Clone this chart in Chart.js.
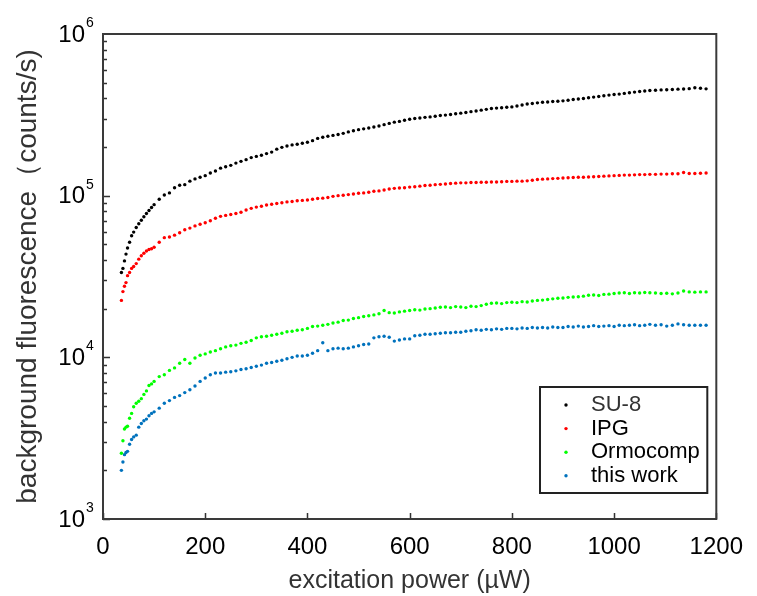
<!DOCTYPE html>
<html>
<head>
<meta charset="utf-8">
<script src="https://cdn.jsdelivr.net/npm/chart.js@4.4.1/dist/chart.umd.min.js"></script>
<style>
  html, body { margin: 0; padding: 0; background: #fff; }
  canvas { display: block; }
</style>
</head>
<body>
<canvas id="chart" width="757" height="596"></canvas>
<script>
// excitation power (µW)
const power = [
  36, 39, 42, 45, 48, 52, 56, 60, 65, 70, 75, 80, 85, 90, 95,
  100, 110, 120, 130, 140, 150, 160, 170, 180, 190,
  200, 210, 220, 230, 240, 250, 260, 270, 280, 290,
  300, 310, 320, 330, 340, 350, 360, 370, 380, 390,
  400, 410, 420, 430, 440, 450, 460, 470, 480, 490,
  500, 510, 520, 530, 540, 550, 560, 570, 580, 590,
  600, 610, 620, 630, 640, 650, 660, 670, 680, 690,
  700, 710, 720, 730, 740, 750, 760, 770, 780, 790,
  800, 810, 820, 830, 840, 850, 860, 870, 880, 890,
  900, 910, 920, 930, 940, 950, 960, 970, 980, 990,
  1000, 1010, 1020, 1030, 1040, 1050, 1060, 1070,
  1081, 1092, 1103, 1114, 1125, 1136, 1147, 1158, 1169, 1180
];

// background fluorescence, in thousands of counts/s
const su8 = [
  33.5, 35.5, 39.5, 43.5, 47.5, 51.5, 56.5, 59.5, 63.5, 67, 70.5, 74, 77.5, 81, 84.5,
  88, 95, 101, 104, 112, 116, 117, 123, 127, 130,
  133, 138, 142, 148, 151, 154, 159, 163, 167, 172,
  175, 178, 182, 186, 194, 199, 203, 206, 208, 211,
  214, 219, 226, 230, 233, 236, 239, 243, 248, 252,
  256, 259, 262, 266, 270, 275, 280, 285, 288, 293,
  297, 300, 302, 305, 307, 310, 313, 315, 318, 321,
  324, 327, 331, 334, 338, 342, 346, 348, 350, 352,
  354, 359, 364, 369, 372, 375, 378, 380, 382, 384,
  386, 389, 393, 396, 399, 403, 407, 411, 415, 419,
  422, 425, 429, 433, 437, 441, 444, 447,
  449, 451, 452, 454, 456, 457, 459, 465, 462, 458
];

const ipg = [
  22.5, 25.5, 27.5, 29, 32, 33.5, 35.5, 36.5, 38, 40.5, 42.5, 44, 45.5, 46.5, 47,
  48, 51.5, 55, 55.5, 57, 59, 61.5, 63, 65, 66.5,
  68, 70, 72.5, 74.5, 75.5, 76.5, 77.5, 79, 81.5, 83.5,
  85, 86, 87.5, 88.5, 89.5, 90.5, 91.5, 92, 93, 93.5,
  94, 95, 96, 96.5, 97.5, 99, 100, 100.5, 101.5, 102.5,
  103.5, 104, 105, 106.5, 107, 108.5, 110, 111, 111.5, 112,
  113, 113.5, 114.5, 115.5, 116, 117, 117.5, 118, 119, 119.5,
  120, 120, 120.5, 120.5, 121, 121, 121.5, 121.5, 122, 122.5,
  122.5, 123, 123, 123.5, 124.5, 126, 126.5, 127, 127.5, 128,
  128.5, 129, 129.5, 130, 130, 130.5, 131, 131.5, 132, 132.5,
  133, 133.5, 134, 134, 134.5, 135, 135, 135.5,
  135.5, 136, 136, 136.5, 136.5, 139, 137, 137, 137.5, 138
];

const ormocomp = [
  2.55, 3.05, 3.6, 3.7, 3.75, 4.2, 4.5, 4.95, 5.2, 5.35, 5.55, 5.9, 6.2, 6.7, 6.85,
  7.1, 7.6, 7.8, 8.3, 8.6, 9.2, 9.7, 9.2, 9.9, 10.3,
  10.5, 10.8, 11.0, 11.3, 11.6, 11.8, 11.9, 12.2, 12.4, 12.7,
  13.2, 13.4, 13.5, 13.7, 13.9, 14.1, 14.4, 14.5, 14.7, 14.8,
  15.1, 15.5, 15.6, 15.8, 16.0, 16.3, 16.5, 16.9, 17.0, 17.4,
  17.6, 17.9, 18.1, 18.3, 18.6, 19.5, 18.9, 18.8, 19.1, 19.3,
  19.5, 19.7, 19.6, 19.9, 20.0, 20.2, 20.4, 20.5, 20.3, 20.6,
  20.5, 20.3, 20.7, 20.6, 20.9, 21.3, 21.6, 21.7, 21.5, 21.8,
  21.9, 21.8, 22.1, 22.0, 22.3, 22.5, 22.6, 22.8, 23.0, 23.2,
  23.3, 23.5, 23.6, 23.7, 23.9, 24.2, 24.3, 24.1, 24.5, 24.6,
  24.8, 25.0, 25.1, 24.8, 25.1, 25.0, 25.2, 25.1,
  25.0, 24.8, 24.9, 24.7, 25.0, 25.7, 25.4, 25.3, 25.4, 25.4
];

const thisWork = [
  2.0, 2.25, 2.5, 2.58, 2.62, 2.9, 3.1, 3.22, 3.3, 3.7, 3.9, 4.05, 4.15, 4.35, 4.5,
  4.6, 4.85, 5.2, 5.4, 5.65, 5.8, 6.05, 6.3, 6.65, 7.1,
  7.45, 7.8, 8.0, 8.0, 8.1, 8.15, 8.25, 8.4, 8.5, 8.65,
  8.8, 8.95, 9.2, 9.3, 9.45, 9.6, 9.8, 10.0, 10.2, 10.2,
  10.3, 10.6, 11.0, 12.3, 11.0, 11.3, 11.4, 11.3, 11.4, 11.6,
  11.8, 12.0, 12.1, 13.2, 13.4, 13.5, 13.3, 12.6, 12.8, 13.0,
  13.0, 13.6, 13.7, 13.9, 13.9, 14.0, 14.1, 14.2, 14.2, 14.3,
  14.3, 14.5, 14.6, 14.8, 14.7, 14.9, 14.8, 15.0, 14.9, 15.1,
  15.1, 15.0, 15.2, 15.1, 15.3, 15.2, 15.3, 15.2, 15.4, 15.3,
  15.3, 15.5, 15.4, 15.6, 15.4, 15.5, 15.7, 15.5, 15.6, 15.7,
  15.5, 15.8, 15.7, 15.8, 15.9, 15.7, 15.8, 16.0,
  15.8, 15.9, 15.6, 15.8, 16.1, 15.9, 15.8, 15.8, 15.8, 15.8
];

const seriesLabels = ['SU-8', 'IPG', 'Ormocomp', 'this work'];
const seriesValues = [su8, ipg, ormocomp, thisWork];
const seriesColors = ['#000000', '#ff0000', '#00ff00', '#0072bd'];

const xTicks = [0, 200, 400, 600, 800, 1000, 1200];
const yExponents = [3, 4, 5, 6];

const FONT = '"Liberation Sans", Arial, Helvetica, sans-serif';

const datasets = seriesLabels.map((label, i) => ({
  label: label,
  data: power.map((p, j) => ({ x: p, y: seriesValues[i][j] * 1000 })),
  backgroundColor: seriesColors[i],
  borderColor: seriesColors[i],
  pointRadius: 1.7,
  pointHoverRadius: 1.7,
  pointBorderWidth: 0
}));

// axis box, inward ticks, 10^n labels and the boxed legend
const axisDecor = {
  id: 'axisDecor',
  afterDraw(chart) {
    const { ctx, chartArea: a, scales: { x, y } } = chart;
    ctx.save();

    ctx.strokeStyle = '#333';
    ctx.lineWidth = 1.5;
    ctx.beginPath();
    xTicks.forEach(v => {
      const px = Math.round(x.getPixelForValue(v)) + 0.5;
      ctx.moveTo(px, a.bottom);
      ctx.lineTo(px, a.bottom - 6);
    });
    for (let d = 3; d < 6; d++) {
      for (let m = 1; m <= 9; m++) {
        const py = Math.round(y.getPixelForValue(m * Math.pow(10, d))) + 0.5;
        ctx.moveTo(a.left, py);
        ctx.lineTo(a.left + (m === 1 ? 7 : 4), py);
      }
    }
    ctx.stroke();

    ctx.lineWidth = 2;
    ctx.strokeStyle = '#3a3a3a';
    ctx.strokeRect(a.left, a.top, a.right - a.left, a.bottom - a.top);

    ctx.fillStyle = '#000';
    ctx.textBaseline = 'middle';
    yExponents.forEach(e => {
      const py = y.getPixelForValue(Math.pow(10, e));
      ctx.font = '24px ' + FONT;
      ctx.textAlign = 'right';
      ctx.fillText('10', a.left - 18, py + 1);
      ctx.font = '14px ' + FONT;
      ctx.textAlign = 'left';
      ctx.fillText(String(e), a.left - 17, py - 11);
    });

    // legend
    const box = { left: 540, top: 387, right: a.right - 9, bottom: a.bottom - 26 };
    ctx.lineWidth = 2;
    ctx.strokeStyle = '#222';
    ctx.strokeRect(box.left, box.top, box.right - box.left, box.bottom - box.top);
    ctx.font = '22px ' + FONT;
    ctx.textAlign = 'left';
    chart.data.datasets.forEach((ds, i) => {
      const cy = box.top + 18 + i * 23.6;
      ctx.fillStyle = ds.backgroundColor;
      ctx.beginPath();
      ctx.arc(box.left + 26, cy, 1.7, 0, Math.PI * 2);
      ctx.fill();
      ctx.fillStyle = i === 0 ? '#333' : '#000';
      ctx.fillText(ds.label, box.left + 51, cy);
    });

    ctx.restore();
  }
};

new Chart(document.getElementById('chart'), {
  type: 'scatter',
  data: { datasets: datasets },
  options: {
    responsive: false,
    devicePixelRatio: 1,
    animation: false,
    layout: { padding: { top: 34, right: 37, left: 0, bottom: 0 } },
    plugins: {
      legend: { display: false },
      tooltip: { enabled: false }
    },
    scales: {
      x: {
        type: 'linear',
        min: 0,
        max: 1200,
        grid: { display: false, drawTicks: false },
        border: { display: false },
        ticks: {
          stepSize: 200,
          padding: 14,
          color: '#000',
          font: { family: FONT, size: 24 },
          callback: v => String(v)
        },
        title: {
          display: true,
          text: 'excitation power (µW)',
          color: '#333',
          font: { family: FONT, size: 25 },
          padding: { top: 0, bottom: 0 }
        },
        afterFit(scale) { scale.height = 77; }
      },
      y: {
        type: 'logarithmic',
        min: 1000,
        max: 1000000,
        grid: { display: false, drawTicks: false },
        border: { display: false },
        ticks: { display: false },
        title: {
          display: true,
          text: 'background fluorescence（counts/s)',
          color: '#333',
          font: { family: FONT, size: 28 },
          padding: { top: 11, bottom: 0 }
        },
        afterFit(scale) { scale.width = 103; }
      }
    }
  },
  plugins: [axisDecor]
});
</script>
</body>
</html>
